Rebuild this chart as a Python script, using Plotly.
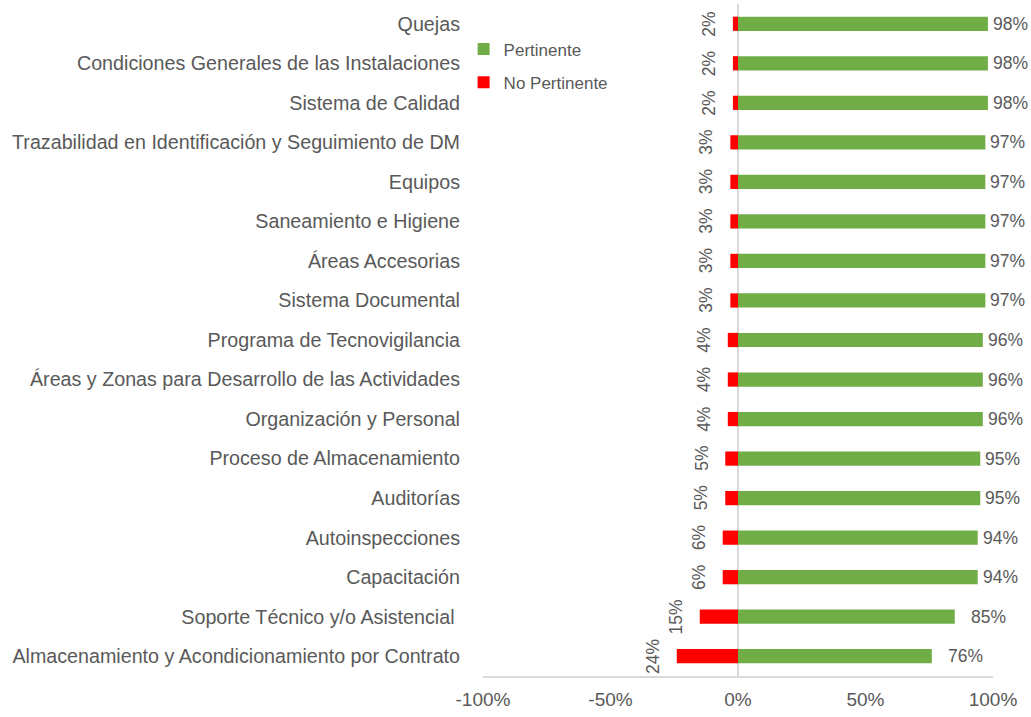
import plotly.graph_objects as go

categories = [
    "Quejas",
    "Condiciones Generales de las Instalaciones",
    "Sistema de Calidad",
    "Trazabilidad en Identificación y Seguimiento de DM",
    "Equipos",
    "Saneamiento e Higiene",
    "Áreas Accesorias",
    "Sistema Documental",
    "Programa de Tecnovigilancia",
    "Áreas y Zonas para Desarrollo de las Actividades",
    "Organización y Personal",
    "Proceso de Almacenamiento",
    "Auditorías",
    "Autoinspecciones",
    "Capacitación",
    "Soporte Técnico y/o Asistencial ",
    "Almacenamiento y Acondicionamiento por Contrato",
]
pertinente = [98, 98, 98, 97, 97, 97, 97, 97, 96, 96, 96, 95, 95, 94, 94, 85, 76]
no_pertinente = [2, 2, 2, 3, 3, 3, 3, 3, 4, 4, 4, 5, 5, 6, 6, 15, 24]
tick_vals = [-100, -50, 0, 50, 100]
tick_text = ["-100%", "-50%", "0%", "50%", "100%"]

FONT = "Liberation Sans, Arial, sans-serif"
GREY = "#595959"

fig = go.Figure()
fig.add_trace(go.Bar(
    y=categories, x=pertinente, orientation="h", name="Pertinente",
    legendgroup="p",
    marker=dict(color="#70ad47", line=dict(width=0)),
))
fig.add_trace(go.Bar(
    y=categories, x=[-v for v in no_pertinente], orientation="h", name="No Pertinente",
    legendgroup="n",
    marker=dict(color="#ff0000", line=dict(width=0)),
))

# value labels for Pertinente (kept inside the chart area near the right edge, like Excel)
for c, v in zip(categories, pertinente):
    fig.add_annotation(
        x=v, y=c, xref="x", yref="y", text=f"{v}%", showarrow=False,
        xanchor="left", yanchor="middle", xshift=14 if v < 90 else 3,
        font=dict(family=FONT, size=17.5, color=GREY),
    )

# rotated value labels for No Pertinente
for c, v in zip(categories, no_pertinente):
    fig.add_annotation(
        x=-v, y=c, xref="x", yref="y", text=f"{v}%", showarrow=False,
        textangle=-90, xanchor="right", yanchor="middle", xshift=-12,
        font=dict(family=FONT, size=17.5, color=GREY),
    )

fig.update_layout(
    width=1031, height=717,
    margin=dict(l=483, r=38, t=4, b=41, autoexpand=False),
    paper_bgcolor="white", plot_bgcolor="white",
    barmode="relative", bargap=0.64,
    font=dict(family=FONT, size=18, color=GREY),
    legend=dict(
        x=-0.038, y=0.959, xanchor="left", yanchor="top",
        font=dict(family=FONT, size=17, color=GREY),
        bgcolor="rgba(0,0,0,0)", itemwidth=30,
        traceorder="grouped", tracegroupgap=8,
    ),
    showlegend=True,
)
fig.update_xaxes(
    range=[-100, 100], tickvals=tick_vals, ticktext=tick_text,
    showgrid=False, zeroline=True, zerolinecolor="#d9d9d9", zerolinewidth=2,
    showline=True, linecolor="#d9d9d9", linewidth=2,
    ticks="", ticklabelstandoff=5, layer="above traces", automargin=False,
    tickfont=dict(family=FONT, size=19, color=GREY), fixedrange=True,
)
fig.update_yaxes(
    autorange="reversed", showgrid=False, showline=False, ticks="",
    ticklabelstandoff=22, automargin=False,
    tickfont=dict(family=FONT, size=19.7, color=GREY),
)

fig.write_html(
    "out.html",
    config={"displayModeBar": False},
    post_script="document.body.style.margin='0';",
)
